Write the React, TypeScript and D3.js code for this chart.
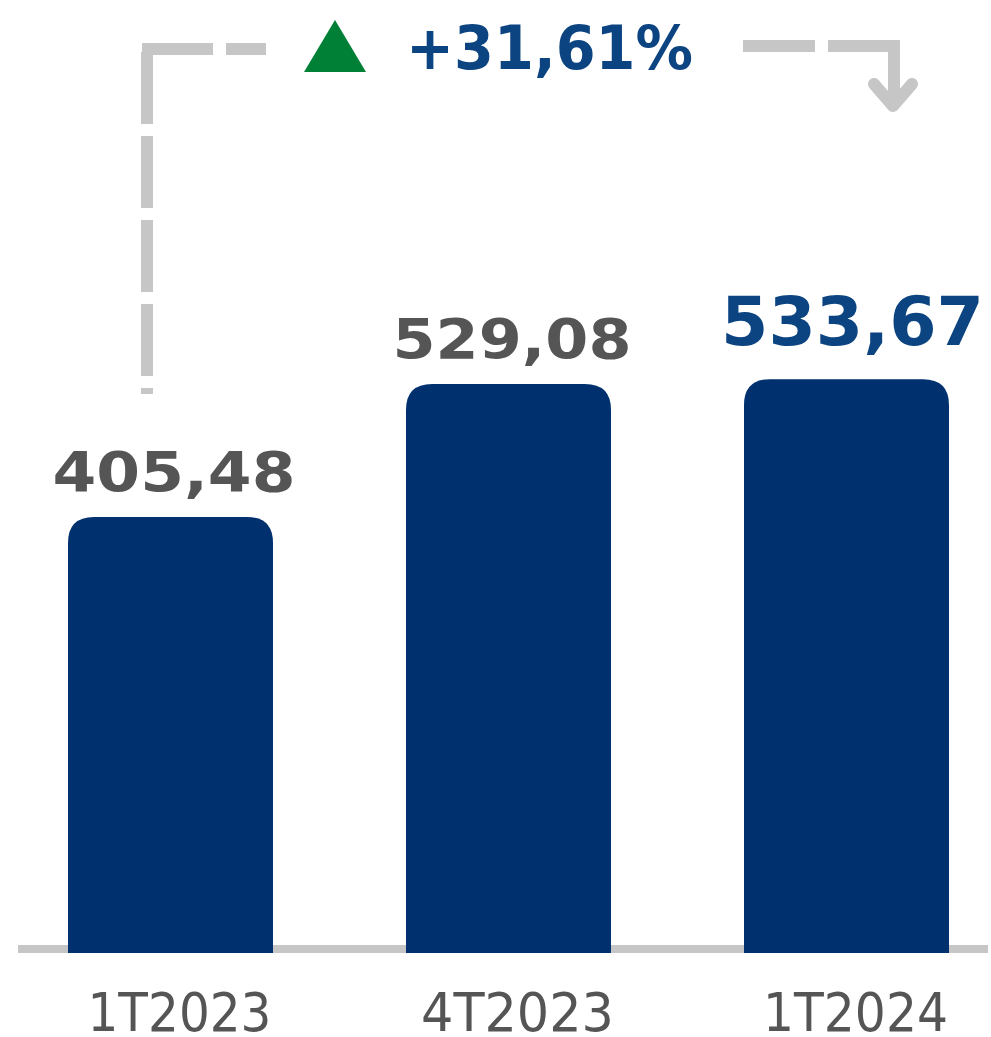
import React from "react";
import * as d3 from "d3";

const categories = ["1T2023", "4T2023", "1T2024"];
const values = [405.48, 529.08, 533.67];
const valueLabels = ["405,48", "529,08", "533,67"];
const changeLabel = "+31,61%";

const W = 991;
const H = 1037;
const BAR = "#00306e";
const GRAY_TXT = "#555555";
const BLUE_TXT = "#0b4480";
const LINE = "#c6c6c6";
const FONT = "'DejaVu Sans', 'Open Sans', sans-serif";

function topRounded(x: number, y: number, w: number, h: number, r: number) {
  return `M${x},${y + h} L${x},${y + r} Q${x},${y} ${x + r},${y} L${x + w - r},${y} Q${x + w},${y} ${x + w},${y + r} L${x + w},${y + h} Z`;
}

export default function App() {
  const x = d3.scaleBand<string>().domain(categories).range([1.5, 1015.5]).paddingInner(0.3935).paddingOuter(0.19675);
  const y = d3.scaleLinear().domain([0, 600]).range([953, 953 - 645.2]);
  const bw = x.bandwidth();

  const labelWidths = [243, 239, 263];
  const catWidths = [184, 193, 185];

  return (
    <svg width={W} height={H} style={{ position: "absolute", left: 0, top: 0 }} fontFamily={FONT}>
      <rect x={0} y={0} width={W} height={H} fill="#ffffff" />
      {/* baseline */}
      <line x1={18} x2={988} y1={949} y2={949} stroke={LINE} strokeWidth={8} />
      {/* bars */}
      {categories.map((c, i) => {
        const x0 = x(c)!;
        const yt = y(values[i]);
        return <path key={c} d={topRounded(x0, yt, bw, 953 - yt, 26)} fill={BAR} />;
      })}
      {/* value labels */}
      {categories.map((c, i) => {
        const cx = x(c)! + bw / 2;
        const yt = y(values[i]);
        const last = i === categories.length - 1;
        return (
          <text
            key={c + "v"}
            x={cx + (last ? 6 : 3.5)}
            y={yt - (last ? 34 : 26)}
            textAnchor="middle"
            fontWeight={700}
            fontSize={last ? 68 : 55}
            fill={last ? BLUE_TXT : GRAY_TXT}
            textLength={labelWidths[i]}
            lengthAdjust="spacingAndGlyphs"
          >
            {valueLabels[i]}
          </text>
        );
      })}
      {/* category labels */}
      {categories.map((c, i) => (
        <text
          key={c + "c"}
          x={x(c)! + bw / 2 + 9}
          y={1031}
          textAnchor="middle"
          fontSize={54}
          fill={GRAY_TXT}
          textLength={catWidths[i]}
          lengthAdjust="spacingAndGlyphs"
        >
          {c}
        </text>
      ))}
      {/* bracket left */}
      <line x1={147} x2={147} y1={52} y2={394} stroke={LINE} strokeWidth={12} strokeDasharray="72 12" />
      <line x1={142} x2={266} y1={49} y2={49} stroke={LINE} strokeWidth={12} strokeDasharray="71 13" />
      {/* bracket right */}
      <line x1={743} x2={900} y1={46} y2={46} stroke={LINE} strokeWidth={12} strokeDasharray="72 13" />
      <line x1={894} x2={894} y1={40} y2={104} stroke={LINE} strokeWidth={12} />
      <polyline
        points="874,84 893,106 912,84"
        fill="none"
        stroke={LINE}
        strokeWidth={12}
        strokeLinecap="round"
        strokeLinejoin="round"
      />
      {/* triangle */}
      <path d="M304,72 L335,20 L366,72 Z" fill="#008037" />
      {/* change label */}
      <text
        x={406}
        y={69}
        fontWeight={700}
        fontSize={61}
        fill={BLUE_TXT}
        textLength={287}
        lengthAdjust="spacingAndGlyphs"
      >
        {changeLabel}
      </text>
    </svg>
  );
}
